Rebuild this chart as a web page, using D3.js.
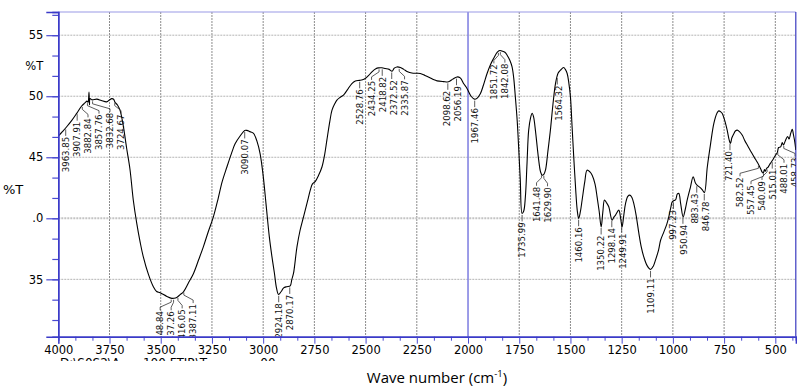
<!DOCTYPE html>
<html>
<head>
<meta charset="utf-8">
<script src="https://cdn.jsdelivr.net/npm/d3@7"></script>
<style>
  body { margin: 0; background: #fff; }
  svg { display: block; }
</style>
</head>
<body>
<div id="chart"></div>
<script>

// spectrum (wave number, %T)
const waveNumbers = [4000, 3980, 3959, 3935, 3910, 3886, 3870, 3860, 3855, 3850, 3848, 3845, 3835, 3812, 3790, 3764, 3750, 3739, 3730, 3723, 3712, 3699, 3685, 3666, 3650, 3634, 3617, 3600, 3585, 3560, 3536, 3520, 3503, 3470, 3446, 3435, 3422, 3405, 3389, 3365, 3340, 3315, 3292, 3268, 3243, 3220, 3200, 3177, 3155, 3137, 3110, 3090, 3080, 3065, 3047, 3030, 3015, 3000, 2985, 2970, 2957, 2945, 2935, 2925, 2912, 2900, 2885, 2868, 2860, 2852, 2835, 2820, 2803, 2785, 2770, 2760, 2746, 2730, 2713, 2700, 2689, 2675, 2664, 2650, 2640, 2625, 2608, 2590, 2567, 2550, 2530, 2515, 2502, 2485, 2469, 2450, 2437, 2420, 2404, 2385, 2371, 2360, 2347, 2330, 2314, 2295, 2274, 2250, 2233, 2210, 2184, 2165, 2151, 2120, 2095, 2075, 2054, 2038, 2020, 2005, 1985, 1968, 1955, 1940, 1925, 1907, 1890, 1875, 1858, 1845, 1835, 1820, 1809, 1795, 1785, 1777, 1769, 1760, 1753, 1745, 1736, 1728, 1720, 1712, 1704, 1695, 1687, 1680, 1671, 1662, 1655, 1646, 1638, 1630, 1622, 1610, 1598, 1585, 1573, 1560, 1549, 1533, 1525, 1516, 1508, 1500, 1492, 1484, 1475, 1467, 1460, 1452, 1443, 1430, 1419, 1405, 1394, 1380, 1370, 1360, 1350, 1342, 1334, 1325, 1313, 1297, 1288, 1280, 1264, 1255, 1248, 1240, 1231, 1220, 1210, 1200, 1191, 1180, 1166, 1155, 1142, 1125, 1109, 1095, 1085, 1070, 1060, 1044, 1030, 1020, 1010, 1003, 995, 987, 978, 971, 962, 950, 940, 930, 915, 901, 890, 881, 865, 855, 846, 832, 816, 800, 785, 776, 765, 759, 745, 735, 725, 719, 712, 702, 695, 686, 675, 661, 650, 637, 620, 604, 592, 580, 570, 565, 559, 553, 549, 543, 535, 524, 512, 499, 490, 484, 474, 466, 460, 450, 440, 433, 425, 420, 417, 412, 405, 400];
const transmittance = [46.73, 47.1, 47.5, 48.0, 48.6, 49.2, 49.45, 49.6, 49.5, 50.35, 49.3, 49.8, 49.7, 49.76, 49.65, 49.54, 49.7, 49.8, 49.75, 49.5, 49.3, 48.86, 47.8, 45.7, 44.0, 41.5, 39.58, 38.0, 36.84, 35.4, 34.39, 34.0, 33.9, 33.6, 33.44, 33.45, 33.52, 33.75, 33.98, 34.7, 35.48, 36.6, 37.66, 38.9, 40.12, 41.6, 43.0, 44.2, 45.3, 46.1, 46.8, 47.2, 47.2, 47.1, 46.95, 46.3, 45.3, 43.5, 41.0, 38.5, 36.84, 35.5, 34.3, 33.76, 34.0, 34.3, 34.4, 34.47, 35.0, 35.48, 37.66, 39.0, 40.12, 41.3, 42.3, 42.8, 43.0, 43.5, 44.2, 45.2, 46.4, 47.9, 48.86, 49.4, 49.68, 49.9, 50.09, 50.5, 51.04, 51.25, 51.3, 51.35, 51.45, 51.7, 52.0, 52.25, 52.32, 52.33, 52.27, 52.2, 52.05, 52.3, 52.4, 52.35, 52.2, 52.0, 51.9, 51.88, 51.86, 51.7, 51.5, 51.35, 51.26, 51.2, 51.18, 51.4, 51.58, 51.5, 51.0, 50.64, 50.0, 49.76, 49.85, 50.2, 50.9, 51.86, 52.6, 53.1, 53.6, 53.75, 53.7, 53.6, 53.36, 52.9, 52.4, 51.5, 49.95, 48.0, 45.85, 43.2, 40.4, 40.6, 41.76, 44.5, 47.2, 48.2, 48.6, 48.3, 47.2, 45.8, 44.76, 43.8, 43.53, 43.6, 43.94, 45.5, 47.2, 49.4, 51.04, 51.9, 52.13, 52.35, 52.2, 51.86, 51.1, 49.95, 47.5, 45.03, 42.5, 40.67, 39.99, 40.5, 41.5, 43.0, 43.94, 43.8, 43.53, 42.8, 41.76, 40.6, 39.3, 40.5, 41.5, 41.3, 40.94, 39.85, 40.1, 40.26, 40.67, 40.0, 39.3, 40.2, 41.22, 41.8, 41.9, 41.7, 41.22, 40.3, 38.76, 37.7, 36.84, 36.1, 35.81, 36.1, 36.57, 37.4, 38.2, 38.89, 39.5, 40.12, 40.9, 41.35, 41.45, 41.5, 42.0, 42.03, 41.2, 40.12, 40.7, 41.5, 42.5, 43.4, 42.9, 42.7, 42.5, 42.3, 42.1, 44.2, 46.1, 47.77, 48.6, 48.8, 48.7, 48.59, 47.9, 47.22, 46.4, 46.13, 46.6, 46.95, 47.15, 47.22, 47.1, 46.8, 46.4, 46.0, 45.5, 45.03, 44.7, 44.35, 44.0, 43.8, 43.7, 44.0, 43.85, 44.08, 44.2, 44.5, 44.8, 45.17, 45.4, 45.8, 45.85, 46.2, 46.0, 46.4, 46.7, 46.5, 46.95, 47.2, 47.3, 46.9, 46.26, 45.6];

const peakLabels = ["3963.85", "3907.91", "3882.84", "3857.76", "3832.68", "3724.67",
  "3448.84", "3437.26", "3416.05", "3387.11", "3090.07", "2924.18", "2870.17",
  "2528.76", "2434.25", "2418.82", "2372.52", "2335.87", "2098.62", "2056.19",
  "1967.46", "1851.72", "1842.08", "1735.99", "1641.48", "1629.90", "1564.32",
  "1460.16", "1350.22", "1298.14", "1249.91", "1109.11", "997.23", "950.94",
  "883.43", "846.78", "721.40", "582.52", "557.45", "540.09", "515.01", "488.01", "458.73"];

const xTicks = [4000, 3750, 3500, 3250, 3000, 2750, 2500, 2250, 2000, 1750, 1500, 1250, 1000, 750, 500];
const yTicks = [55, 52.5, 50, 45, 40, 35];
const yTickText = ["55", "%T", "50", "45", ".0", "35"];

const W = 801, H = 391;
const plotL = 58.3, plotR = 795.8, plotT = 12, plotB = 336.7;

const x = d3.scaleLinear().domain([4000, 400]).range([plotL, plotR]);
const y = d3.scaleLinear().domain([30.3, 56.9]).range([plotB, plotT]);

const svg = d3.select("#chart").append("svg")
  .attr("width", W).attr("height", H)
  .style("font-family", "'DejaVu Sans', Verdana, sans-serif");

svg.append("defs").append("clipPath").attr("id", "plot")
  .append("rect").attr("x", plotL).attr("y", plotT)
  .attr("width", plotR - plotL).attr("height", plotB - plotT);

// grid
const grid = svg.append("g");
grid.selectAll(".vg").data(xTicks.filter(d => d !== 4000 && d !== 2000)).enter()
  .append("line")
  .attr("x1", d => x(d)).attr("x2", d => x(d))
  .attr("y1", plotT).attr("y2", plotB)
  .attr("stroke", "#8c8c8c").attr("stroke-dasharray", "2,1").attr("stroke-width", 1);
grid.selectAll(".hg").data([55, 50, 45, 40, 35]).enter()
  .append("line")
  .attr("x1", plotL).attr("x2", plotR)
  .attr("y1", d => y(d)).attr("y2", d => y(d))
  .attr("stroke", d => d === 40 ? "#c4c4c4" : "#b4b4b4")
  .attr("stroke-width", d => d === 40 ? 2 : 1)
  .attr("stroke-dasharray", "2,1");
grid.append("line")
  .attr("x1", x(2000)).attr("x2", x(2000)).attr("y1", plotT).attr("y2", plotB)
  .attr("stroke", "#8484e2").attr("stroke-width", 1.6);

// frame top / right
svg.append("line").attr("x1", plotL).attr("x2", plotR).attr("y1", plotT).attr("y2", plotT)
  .attr("stroke", "#9a9ae6").attr("stroke-width", 1.2);
svg.append("line").attr("x1", plotR).attr("x2", plotR).attr("y1", plotT).attr("y2", plotB)
  .attr("stroke", "#3a3ac0").attr("stroke-width", 1.2);

// spectrum
const spectrum = waveNumbers.map((w, i) => ({ w: w, t: transmittance[i] }));
svg.append("path")
  .datum(spectrum)
  .attr("clip-path", "url(#plot)")
  .attr("fill", "none").attr("stroke", "#000").attr("stroke-width", 1.1)
  .attr("d", d3.line().x(d => x(d.w)).y(d => y(d.t)).curve(d3.curveCatmullRom));

function tAt(w) {
  const i = spectrum.findIndex(d => d.w <= w);
  if (i <= 0) return spectrum[0].t;
  const a = spectrum[i - 1], b = spectrum[i];
  return a.t + (b.t - a.t) * (a.w - w) / (a.w - b.w);
}

// spread crowded peak labels sideways
const gap = 11;
const nodes = peakLabels.map(s => ({ text: s, wn: +s, x0: x(+s) })).sort((a, b) => a.x0 - b.x0);
function place(c) {
  const n = c.items.length;
  let s = c.sum / n - (n - 1) * gap / 2;
  s = Math.max(66, Math.min(795 - (n - 1) * gap, s));
  c.start = s;
}
const clusters = [];
nodes.forEach(n => {
  const c = { items: [n], sum: n.x0 };
  place(c);
  clusters.push(c);
  while (clusters.length > 1) {
    const cur = clusters[clusters.length - 1], prev = clusters[clusters.length - 2];
    const prevEnd = prev.start + (prev.items.length - 1) * gap;
    if (cur.start - prevEnd >= gap) break;
    prev.items = prev.items.concat(cur.items);
    prev.sum += cur.sum;
    place(prev);
    clusters.pop();
  }
});
clusters.forEach(c => c.items.forEach((n, i) => { n.xt = c.start + i * gap; }));

const labels = svg.append("g").attr("clip-path", "url(#plot)");
nodes.forEach(n => {
  const xc = n.x0, yc = y(tAt(n.wn));
  const shifted = Math.abs(n.xt - xc) > 2;
  const ty = yc + 9 + (shifted ? 4 : 0);
  const path = shifted
    ? `M${xc},${yc + 1.5}V${yc + 4}L${n.xt},${ty - 4}V${ty - 1}`
    : `M${xc},${yc + 1.5}V${ty - 1}`;
  labels.append("path").attr("d", path)
    .attr("fill", "none").attr("stroke", "#333").attr("stroke-width", 0.8);
  labels.append("text")
    .attr("transform", `translate(${n.xt},${ty}) rotate(-90)`)
    .attr("text-anchor", "end").attr("dy", "0.35em")
    .style("font-family", "'Liberation Sans Narrow', 'DejaVu Sans Condensed', sans-serif")
    .style("font-size", "9.5px").attr("fill", "#111")
    .text(n.text);
});

// x axis
const minorX = d3.range(4000, 399, -250 / 3).filter(v => Math.abs(v / 250 - Math.round(v / 250)) > 0.01);
const xMinor = svg.append("g").attr("transform", `translate(0,${plotB})`)
  .call(d3.axisBottom(x).tickValues(minorX).tickSize(4).tickFormat(""));
const xAxis = svg.append("g").attr("transform", `translate(0,${plotB})`)
  .call(d3.axisBottom(x).tickValues(xTicks).tickSize(7).tickPadding(2).tickFormat(d3.format("d")));
[xMinor, xAxis].forEach(g => {
  g.select(".domain").attr("stroke", "#3a3ac8").attr("stroke-width", 1.4);
  g.selectAll(".tick line").attr("stroke", "#4a4ad0");
});
xAxis.selectAll("text").attr("fill", "#000").style("font-size", "11.5px")
  .style("font-family", "'DejaVu Sans', Verdana, sans-serif");

// y axis
const minorY = d3.range(56.6667, 30.3, -5 / 3);
const yMinor = svg.append("g").attr("transform", `translate(${plotL},0)`)
  .call(d3.axisLeft(y).tickValues(minorY).tickSize(6).tickFormat(""));
const yAxis = svg.append("g").attr("transform", `translate(${plotL},0)`)
  .call(d3.axisLeft(y).tickValues(yTicks).tickSize(12).tickPadding(3)
    .tickFormat((d, i) => yTickText[i]));
[yMinor, yAxis].forEach(g => {
  g.select(".domain").attr("stroke", "#3a3ac8").attr("stroke-width", 1.4);
  g.selectAll(".tick line").attr("stroke", "#4a4ad0").attr("stroke-width", 1.2);
});
yAxis.selectAll(".tick").filter(d => d === 52.5).select("line").remove();
yAxis.selectAll("text").attr("fill", "#000").style("font-size", "11.5px")
  .style("font-family", "'DejaVu Sans', Verdana, sans-serif");

// axis titles
svg.append("text").attr("x", 3).attr("y", 194)
  .style("font-size", "13px").attr("fill", "#000").text("%T");

const xt = svg.append("text").attr("x", 437).attr("y", 383)
  .attr("text-anchor", "middle")
  .style("font-family", "'Open Sans', 'Noto Sans', sans-serif")
  .style("font-size", "15px").attr("fill", "#000");
xt.append("tspan").text("Wave number (cm");
xt.append("tspan").attr("dy", -6).style("font-size", "9.5px").text("-1");
xt.append("tspan").attr("dy", 6).text(")");

// file name line, mostly hidden under the axis labels
svg.append("defs").append("clipPath").attr("id", "fname")
  .append("rect").attr("x", 0).attr("y", 356).attr("width", 300).attr("height", 5);
svg.append("text").attr("x", 60).attr("y", 367)
  .attr("clip-path", "url(#fname)")
  .attr("xml:space", "preserve")
  .style("font-size", "12px").attr("fill", "#000")
  .text("D:\\S0S2\\A      100 FTIR\\T              00");

</script>
</body>
</html>
